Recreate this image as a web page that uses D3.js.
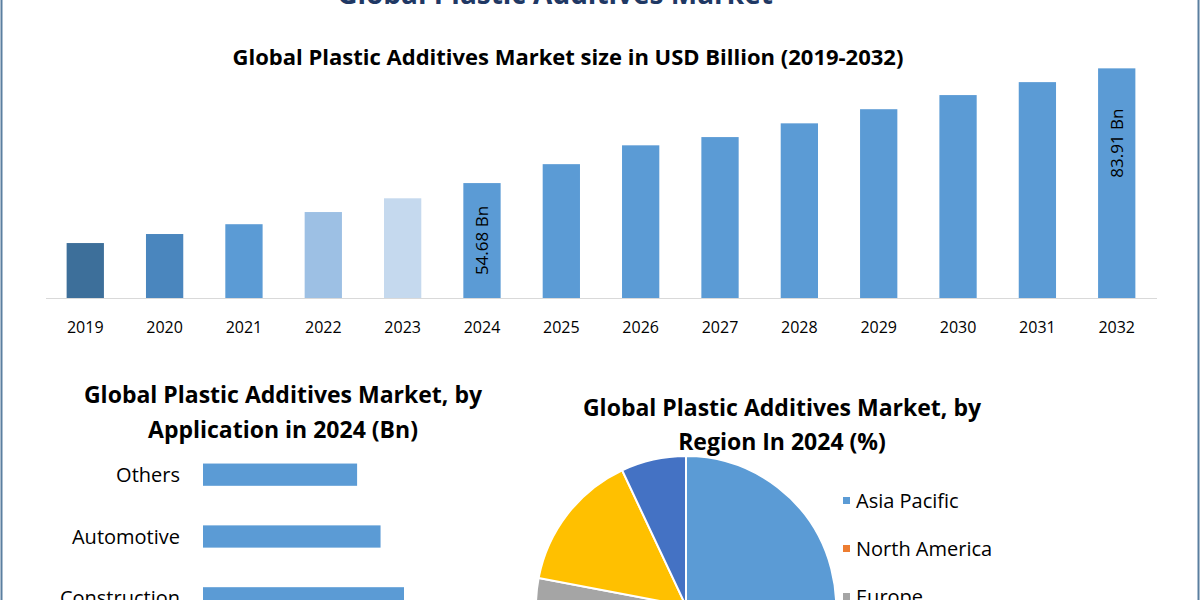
<!DOCTYPE html>
<html>
<head>
<meta charset="utf-8">
<script src="https://cdn.jsdelivr.net/npm/d3@7"></script>
<style>
body { margin: 0; background: #fff; }
text { font-family: "Open Sans", sans-serif; fill: #000; }
</style>
</head>
<body>
<div id="chart"></div>
<script>
// market size by year
var years = ["2019", "2020", "2021", "2022", "2023", "2024", "2025", "2026", "2027", "2028", "2029", "2030", "2031", "2032"];
var sizes = [39.4, 41.7, 44.2, 47.3, 50.8, 54.68, 59.5, 64.3, 66.4, 69.9, 73.5, 77.1, 80.4, 83.91];
var barColors = ["#3d6f9a", "#4a86be", "#5b9bd5", "#9dc0e4", "#c5d9ee", "#5b9bd5", "#5b9bd5", "#5b9bd5", "#5b9bd5", "#5b9bd5", "#5b9bd5", "#5b9bd5", "#5b9bd5", "#5b9bd5"];
var labelled = { "2024": "54.68 Bn", "2032": "83.91 Bn" };

// by application
var apps = ["Others", "Automotive", "Construction"];
var appValues = [9.2, 10.6, 12.0];

// by region
var regions = ["Asia Pacific", "North America", "Europe", "Middle East & Africa", "South America"];
var regionShares = [42, 24, 12, 15, 7];
var regionColors = ["#5b9bd5", "#ed7d31", "#a5a5a5", "#ffc000", "#4472c4"];

var W = 1200, H = 600;
var svg = d3.select("#chart").append("svg").attr("width", W).attr("height", H);

svg.append("rect").attr("x", 1.5).attr("y", -5).attr("width", W - 3).attr("height", H + 10)
  .attr("fill", "none").attr("stroke", "#5a7fa0").attr("stroke-width", 2);

// page title, cut off at the top edge like in the source
svg.append("text").attr("x", 555).attr("y", 4).attr("text-anchor", "middle")
  .style("font-size", "28px").style("font-weight", "bold").style("fill", "#1f3864")
  .text("Global Plastic Additives Market");

svg.append("text").attr("x", 568).attr("y", 65).attr("text-anchor", "middle")
  .style("font-size", "22px").style("font-weight", "bold")
  .text("Global Plastic Additives Market size in USD Billion (2019-2032)");

// ---- top bar chart
var x = d3.scaleBand().domain(years).range([46, 1156]).paddingInner(0.53).paddingOuter(0.26);
var y = d3.scaleLinear().domain([25.4, 84]).range([298, 68]);

svg.append("line").attr("x1", 46).attr("x2", 1157).attr("y1", 298.5).attr("y2", 298.5)
  .attr("stroke", "#d9d9d9");

svg.selectAll(".bar").data(years).enter().append("rect")
  .attr("x", function(d) { return x(d); })
  .attr("width", x.bandwidth())
  .attr("y", function(d, i) { return y(sizes[i]); })
  .attr("height", function(d, i) { return 298 - y(sizes[i]); })
  .attr("fill", function(d, i) { return barColors[i]; });

svg.selectAll(".yr").data(years).enter().append("text")
  .attr("x", function(d) { return x(d) + x.bandwidth() / 2; })
  .attr("y", 333).attr("text-anchor", "middle").style("font-size", "16px")
  .text(function(d) { return d; });

years.forEach(function(d, i) {
  if (!labelled[d]) return;
  var cx = x(d) + x.bandwidth() / 2;
  var cy = (y(sizes[i]) + 298) / 2 - (d === "2032" ? 40 : 0);
  svg.append("text").attr("transform", "translate(" + (cx + 6) + "," + cy + ")rotate(-90)")
    .attr("text-anchor", "middle").style("font-size", "17px").text(labelled[d]);
});

// ---- application bars
svg.append("text").attr("x", 283).attr("y", 403).attr("text-anchor", "middle")
  .style("font-size", "23px").style("font-weight", "bold").text("Global Plastic Additives Market, by");
svg.append("text").attr("x", 283).attr("y", 438).attr("text-anchor", "middle")
  .style("font-size", "23px").style("font-weight", "bold").text("Application in 2024 (Bn)");

var hx = d3.scaleLinear().domain([0, 12]).range([203, 404]);
var hy = d3.scaleBand().domain(apps).range([445, 628]).paddingInner(0.64).paddingOuter(0.3);

svg.selectAll(".hbar").data(apps).enter().append("rect")
  .attr("x", hx(0)).attr("y", function(d) { return hy(d); })
  .attr("width", function(d, i) { return hx(appValues[i]) - hx(0); })
  .attr("height", hy.bandwidth()).attr("fill", "#5b9bd5");

svg.selectAll(".hlab").data(apps).enter().append("text")
  .attr("x", 180).attr("y", function(d) { return hy(d) + hy.bandwidth() / 2 + 7; })
  .attr("text-anchor", "end").style("font-size", "20px").text(function(d) { return d; });

// ---- region pie
svg.append("text").attr("x", 782).attr("y", 416).attr("text-anchor", "middle")
  .style("font-size", "23px").style("font-weight", "bold").text("Global Plastic Additives Market, by");
svg.append("text").attr("x", 782).attr("y", 450).attr("text-anchor", "middle")
  .style("font-size", "23px").style("font-weight", "bold").text("Region In 2024 (%)");

var pie = d3.pie().sort(null)(regionShares);
var arc = d3.arc().innerRadius(0).outerRadius(150);
svg.append("g").attr("transform", "translate(686,606)")
  .selectAll("path").data(pie).enter().append("path")
  .attr("d", arc).attr("fill", function(d, i) { return regionColors[i]; })
  .attr("stroke", "#fff").attr("stroke-width", 2);

var leg = svg.selectAll(".leg").data(regions).enter().append("g")
  .attr("transform", function(d, i) { return "translate(843," + (505 + i * 48) + ")"; });
leg.append("rect").attr("x", 0).attr("y", -8).attr("width", 7).attr("height", 7)
  .attr("fill", function(d, i) { return regionColors[i]; });
leg.append("text").attr("x", 13).attr("y", 3).style("font-size", "20px")
  .text(function(d) { return d; });
</script>
</body>
</html>
